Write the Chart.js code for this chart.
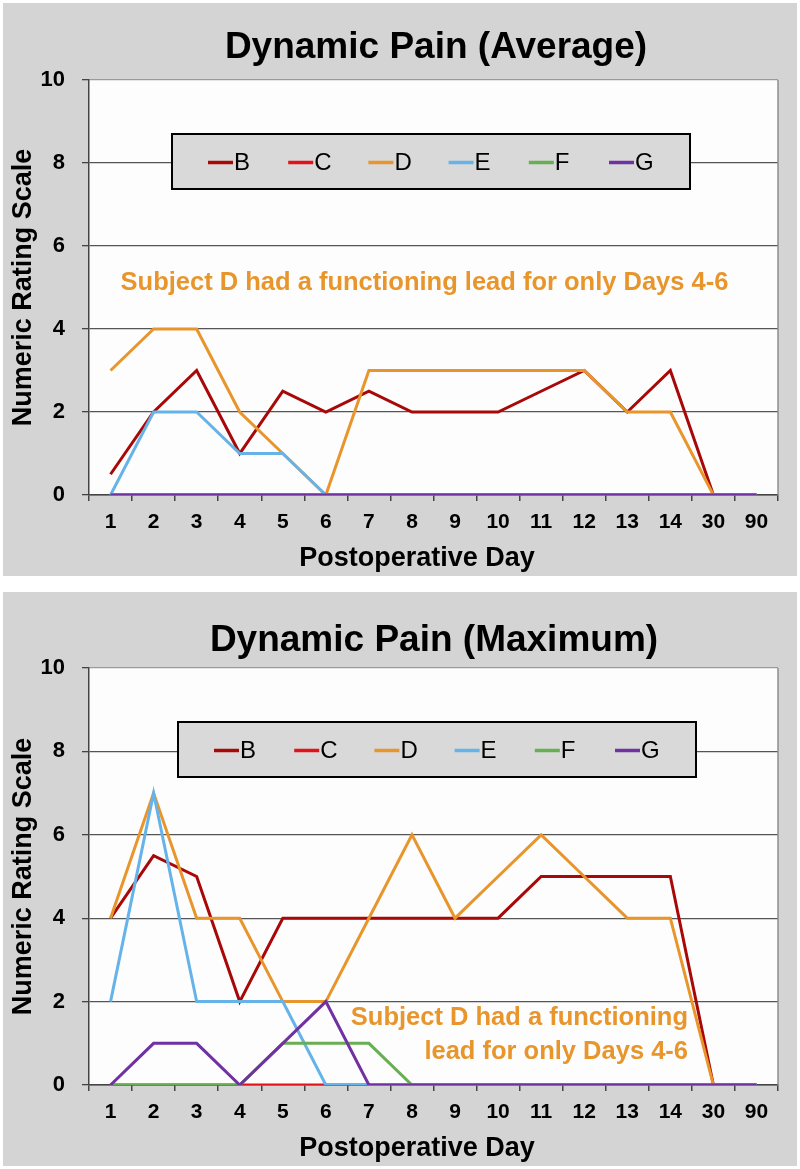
<!DOCTYPE html>
<html><head><meta charset="utf-8">
<script src="https://cdn.jsdelivr.net/npm/chart.js@4.4.1/dist/chart.umd.min.js"></script>
<style>
html,body{margin:0;padding:0;background:#fff;}
.panel{position:absolute;left:3px;width:794px;background:#d4d4d4;}
#p1{top:3px;height:573px;}
#p2{top:592px;height:574px;}
canvas{display:block;}
</style></head><body>
<div class="panel" id="p1"><canvas id="c1" width="794" height="573"></canvas></div>
<div class="panel" id="p2"><canvas id="c2" width="794" height="574"></canvas></div>
<script>
// ---- data ----
const days = ['1','2','3','4','5','6','7','8','9','10','11','12','13','14','30','90'];
const yTickValues = [0, 2, 4, 6, 8, 10];
const seriesNames = ['B', 'C', 'D', 'E', 'F', 'G'];
const seriesColors = ['#a80808', '#e3121a', '#e8952c', '#66b3ea', '#68ae52', '#7031a2'];

const avgB = [0.5, 2, 3, 1, 2.5, 2, 2.5, 2, 2, 2, 2.5, 3, 2, 3, 0, 0];
const avgC = [0, 0, 0, 0, 0, 0, 0, 0, 0, 0, 0, 0, 0, 0, 0, 0];
const avgD = [3, 4, 4, 2, 1, 0, 3, 3, 3, 3, 3, 3, 2, 2, 0, 0];
const avgE = [0, 2, 2, 1, 1, 0, 0, 0, 0, 0, 0, 0, 0, 0, 0, 0];
const avgF = [0, 0, 0, 0, 0, 0, 0, 0, 0, 0, 0, 0, 0, 0, 0, 0];
const avgG = [0, 0, 0, 0, 0, 0, 0, 0, 0, 0, 0, 0, 0, 0, 0, 0];

const maxB = [4, 5.5, 5, 2, 4, 4, 4, 4, 4, 4, 5, 5, 5, 5, 0, 0];
const maxC = [0, 0, 0, 0, 0, 0, 0, 0, 0, 0, 0, 0, 0, 0, 0, 0];
const maxD = [4, 7, 4, 4, 2, 2, 4, 6, 4, 5, 6, 5, 4, 4, 0, 0];
const maxE = [2, 7, 2, 2, 2, 0, 0, 0, 0, 0, 0, 0, 0, 0, 0, 0];
const maxF = [0, 0, 0, 0, 1, 1, 1, 0, 0, 0, 0, 0, 0, 0, 0, 0];
const maxG = [0, 1, 1, 0, 1, 2, 0, 0, 0, 0, 0, 0, 0, 0, 0, 0];

const titleAvg = 'Dynamic Pain (Average)';
const titleMax = 'Dynamic Pain (Maximum)';
const xTitle = 'Postoperative Day';
const yTitle = 'Numeric Rating Scale';
const noteAvg = ['Subject D had a functioning lead for only Days 4-6'];
const noteMax = ['Subject D had a functioning', 'lead for only Days 4-6'];

const FONT = '"Liberation Sans", Arial, sans-serif';

const decor = {
  id: 'decor',
  beforeDraw(chart, args, o) {
    const {ctx, chartArea: a} = chart;
    ctx.save();
    ctx.fillStyle = '#fdfdfd';
    ctx.fillRect(a.left, a.top, a.right - a.left, a.bottom - a.top);
    ctx.restore();
  },
  beforeDatasetsDraw(chart, args, o) {
    const {ctx, chartArea: a} = chart;
    ctx.save();
    ctx.strokeStyle = '#8e8e8e';
    ctx.lineWidth = 1.5;
    ctx.beginPath();
    ctx.moveTo(a.right, a.top);
    ctx.lineTo(a.right, a.bottom);
    ctx.stroke();
    ctx.restore();
  },
  afterDraw(chart, args, o) {
    const {ctx} = chart;
    ctx.save();
    // title
    ctx.fillStyle = '#000';
    ctx.font = 'bold 37px ' + FONT;
    ctx.textAlign = 'center';
    ctx.textBaseline = 'middle';
    ctx.fillText(o.title, o.titleX, o.titleY);
    // x axis title
    ctx.font = 'bold 27px ' + FONT;
    ctx.fillText(o.xTitle, o.xTitleX, o.xTitleY);
    // legend box
    const L = o.legend;
    ctx.fillStyle = '#d9d9d9';
    ctx.fillRect(L.x, L.y, L.w, L.h);
    ctx.strokeStyle = '#000';
    ctx.lineWidth = 2;
    ctx.strokeRect(L.x, L.y, L.w, L.h);
    ctx.font = '24px ' + FONT;
    ctx.textAlign = 'left';
    const cy = L.y + L.h / 2 + 1;
    chart.data.datasets.forEach((ds, i) => {
      const x0 = L.x + L.first + L.step * i;
      ctx.strokeStyle = ds.borderColor;
      ctx.lineWidth = 3.5;
      ctx.beginPath();
      ctx.moveTo(x0, cy);
      ctx.lineTo(x0 + 25, cy);
      ctx.stroke();
      ctx.fillStyle = '#000';
      ctx.fillText(ds.label, x0 + 26, cy + 1);
    });
    // annotation
    const N = o.note;
    ctx.fillStyle = '#e8952c';
    ctx.font = 'bold 25.5px ' + FONT;
    ctx.textAlign = N.align;
    N.lines.forEach((t, i) => ctx.fillText(t, N.x, N.y + i * N.lh));
    ctx.restore();
  }
};

function makeChart(id, values, opt) {
  const datasets = seriesNames.map((n, i) => ({
    label: n,
    data: values[i],
    borderColor: seriesColors[i],
    backgroundColor: seriesColors[i],
    borderWidth: 3,
    pointRadius: 0,
    tension: 0,
    fill: false,
    order: seriesNames.length - i
  }));
  return new Chart(document.getElementById(id), {
    type: 'line',
    data: { labels: days, datasets },
    plugins: [decor],
    options: {
      responsive: false,
      animation: false,
      events: [],
      layout: { padding: { top: opt.top, right: 19, left: 0, bottom: 0 } },
      scales: {
        x: {
          offset: true,
          afterFit: s => { s.height = 81; },
          grid: { offset: true, drawOnChartArea: false, drawTicks: true, tickLength: 6, tickColor: '#444', lineWidth: 1.5 },
          border: { display: true, color: '#444', width: 1.5 },
          ticks: { color: '#000', font: { family: FONT, size: 21, weight: 'bold' }, padding: 9, maxRotation: 0, autoSkip: false }
        },
        y: {
          min: 0, max: 10,
          afterFit: s => { s.width = 86; },
          afterBuildTicks: s => { s.ticks = yTickValues.map(v => ({ value: v })); },
          grid: {
            color: c => (c.tick && c.tick.value === 10) ? '#9a9a9a' : '#555',
            lineWidth: 1.3,
            drawTicks: true, tickLength: 7, tickColor: '#444'
          },
          border: { display: true, color: '#444', width: 1.5 },
          ticks: { color: '#000', font: { family: FONT, size: 22, weight: 'bold' }, padding: 17 },
          title: { display: true, text: yTitle, color: '#000', font: { family: FONT, size: 27, weight: 'bold' }, padding: { top: 4, bottom: 4 } }
        }
      },
      plugins: {
        legend: { display: false },
        tooltip: { enabled: false },
        decor: opt.decor
      }
    }
  });
}

makeChart('c1', [avgB, avgC, avgD, avgE, avgF, avgG], {
  top: 77,
  decor: {
    title: titleAvg, titleX: 433, titleY: 45,
    xTitle: xTitle, xTitleX: 414, xTitleY: 556,
    legend: { x: 169, y: 131, w: 518, h: 55, first: 36, step: 80.2 },
    note: { lines: noteAvg, x: 421.5, y: 280, lh: 34, align: 'center' }
  }
});

makeChart('c2', [maxB, maxC, maxD, maxE, maxF, maxG], {
  top: 76,
  decor: {
    title: titleMax, titleX: 431, titleY: 49,
    xTitle: xTitle, xTitleX: 414, xTitleY: 557,
    legend: { x: 175, y: 130, w: 518, h: 55, first: 36, step: 80.2 },
    note: { lines: noteMax, x: 685, y: 426, lh: 34, align: 'right' }
  }
});
</script>
</body></html>
